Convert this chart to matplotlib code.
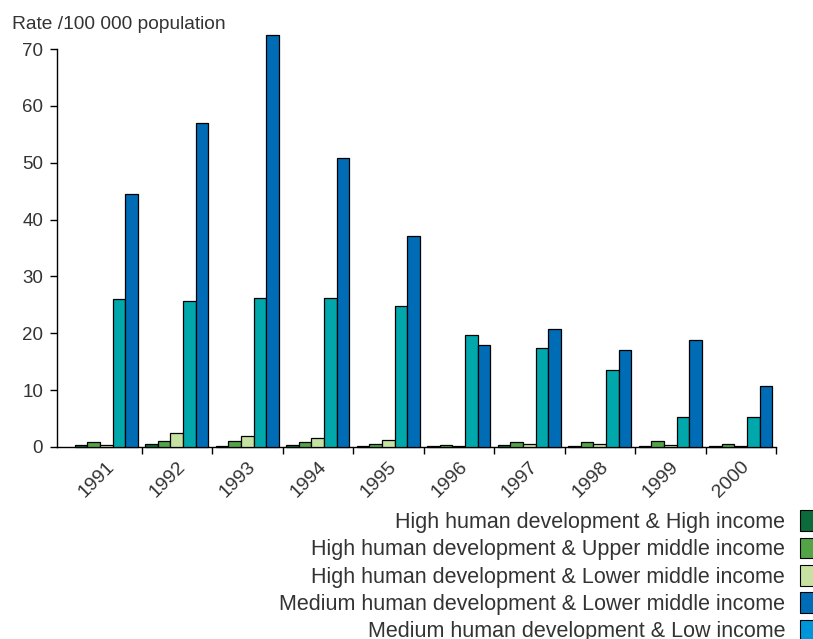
import numpy as np
import matplotlib
matplotlib.use('Agg')
import matplotlib.pyplot as plt
from matplotlib.patches import Patch

plt.rcParams['font.family'] = ['Liberation Sans', 'DejaVu Sans']

years = ['1991', '1992', '1993', '1994', '1995', '1996', '1997', '1998', '1999', '2000']

# rate per 100 000 population
high_high = [0.3, 0.5, 0.2, 0.4, 0.2, 0.2, 0.3, 0.2, 0.1, 0.1]
high_upper = [0.8, 1.0, 1.0, 0.8, 0.6, 0.3, 0.9, 0.8, 1.1, 0.6]
high_lower = [0.4, 2.5, 2.0, 1.6, 1.3, 0.1, 0.6, 0.6, 0.4, 0.2]
medium_teal = [26.0, 25.7, 26.2, 26.2, 24.8, 19.7, 17.4, 13.5, 5.2, 5.3]
medium_lower = [44.5, 57.0, 72.5, 50.8, 37.1, 18.0, 20.8, 17.1, 18.9, 10.8]

series = [high_high, high_upper, high_lower, medium_teal, medium_lower]
bar_colors = ['#0b6b3a', '#52a447', '#c6e2a2', '#00a7ab', '#006cb5']

legend_labels = [
    'High human development & High income',
    'High human development & Upper middle income',
    'High human development & Lower middle income',
    'Medium human development & Lower middle income',
    'Medium human development & Low income',
]
legend_colors = ['#0b6b3a', '#52a447', '#c6e2a2', '#006cb5', '#0095d9']

text_color = '#333333'

fig = plt.figure(figsize=(8.13, 6.39), dpi=100)
ax = fig.add_axes([0.070, 0.3005, 0.8845, 0.6228])

x = np.arange(len(years))
width = 0.18
for i, (vals, col) in enumerate(zip(series, bar_colors)):
    ax.bar(x - 0.45 + width * (i + 0.5), vals, width, color=col,
           edgecolor='black', linewidth=0.9, clip_on=False, zorder=3)

ax.set_xlim(-0.7, 9.5)
ax.set_ylim(0, 70)
ax.set_yticks(np.arange(0, 71, 10))
ax.tick_params(axis='y', direction='out', length=5, width=1, colors='black',
               labelcolor=text_color, labelsize=13.5, pad=5)

# ticks sit between the year groups, labels under the group centres
ax.set_xticks(np.arange(0.5, 10, 1))
ax.set_xticklabels([])
ax.tick_params(axis='x', direction='out', length=5, width=1)
ax.set_xticks(x, minor=True)
ax.set_xticklabels(years, minor=True, rotation=45, ha='right', va='top',
                   rotation_mode='anchor', fontsize=14, color=text_color)
ax.tick_params(axis='x', which='minor', length=0, pad=8)

for side in ['top', 'right']:
    ax.spines[side].set_visible(False)
ax.spines['left'].set_linewidth(1)
ax.spines['bottom'].set_linewidth(1)

fig.text(0.015, 0.962, 'Rate /100 000 population', fontsize=13.8,
         color=text_color, va='center', ha='left')

handles = [Patch(facecolor=c, edgecolor='black', linewidth=0.8) for c in legend_colors]
fig.legend(handles, legend_labels, loc='upper right', bbox_to_anchor=(1.012, 0.215),
           frameon=False, markerfirst=False, fontsize=15.5, labelcolor=text_color,
           handlelength=0.65, handleheight=1.1, handletextpad=0.7,
           labelspacing=0.22, borderaxespad=0)

fig.savefig('out.png', dpi=100)
